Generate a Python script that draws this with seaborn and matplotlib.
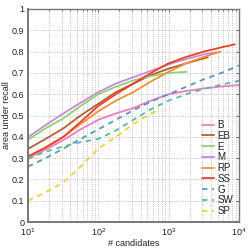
import numpy as np
import pandas as pd
import matplotlib
matplotlib.use("Agg")
import matplotlib.pyplot as plt
import seaborn as sns
from matplotlib.ticker import LogLocator, LogFormatterMathtext, FixedLocator

# ---- data ----
methods = ["B", "EB", "E", "M", "RP", "SS", "G", "SW", "SP"]

n_B = [10, 17.8, 32, 56, 100, 178, 316, 562, 1000, 1778, 3162, 5623, 10000]
auc_B = [0.30, 0.34, 0.385, 0.435, 0.48, 0.51, 0.535, 0.57, 0.60, 0.615, 0.627, 0.636, 0.643]

n_EB = [10, 17.8, 32, 56, 100, 178, 316, 562, 1000, 1778, 3600]
auc_EB = [0.343, 0.39, 0.44, 0.50, 0.555, 0.61, 0.65, 0.69, 0.72, 0.745, 0.773]

n_E = [10, 17.8, 32, 56, 100, 178, 316, 562, 1000, 1800]
auc_E = [0.386, 0.44, 0.487, 0.545, 0.60, 0.635, 0.665, 0.685, 0.70, 0.705]

n_M = [10, 17.8, 32, 56, 100, 178, 316, 562, 1000, 1778, 3162, 4800]
auc_M = [0.398, 0.455, 0.51, 0.56, 0.61, 0.65, 0.68, 0.71, 0.74, 0.765, 0.787, 0.797]

n_RP = [10, 17.8, 32, 56, 100, 178, 316, 562, 1000, 1778, 3162, 5500]
auc_RP = [0.304, 0.35, 0.40, 0.46, 0.52, 0.57, 0.61, 0.66, 0.705, 0.745, 0.775, 0.80]

n_SS = [10, 17.8, 32, 56, 100, 178, 316, 562, 1000, 1778, 3162, 5623, 8700]
auc_SS = [0.308, 0.35, 0.40, 0.47, 0.545, 0.60, 0.65, 0.70, 0.745, 0.775, 0.80, 0.82, 0.834]

n_G = [10, 17.8, 32, 56, 100, 178, 316, 562, 1000, 1778, 3162, 5623, 10000]
auc_G = [0.26, 0.30, 0.345, 0.39, 0.435, 0.48, 0.525, 0.565, 0.60, 0.635, 0.67, 0.70, 0.735]

n_SW = [10, 17.8, 32, 56, 100, 178, 316, 562, 1000, 1778, 3162, 5623, 10000]
auc_SW = [0.296, 0.33, 0.355, 0.375, 0.39, 0.43, 0.48, 0.53, 0.57, 0.60, 0.625, 0.645, 0.663]

n_SP = [10, 18, 32, 56, 100, 178, 316, 562, 750]
auc_SP = [0.10, 0.14, 0.185, 0.26, 0.345, 0.40, 0.46, 0.51, 0.526]

series = {
    "B": (n_B, auc_B), "EB": (n_EB, auc_EB), "E": (n_E, auc_E),
    "M": (n_M, auc_M), "RP": (n_RP, auc_RP), "SS": (n_SS, auc_SS),
    "G": (n_G, auc_G), "SW": (n_SW, auc_SW), "SP": (n_SP, auc_SP),
}

rows = []
for m in methods:
    ns, vs = series[m]
    for n, v in zip(ns, vs):
        rows.append({"method": m, "candidates": n, "auc": v})
df = pd.DataFrame(rows)

palette = {
    "B": "#f07cc0", "EB": "#b5602e", "E": "#8fd070", "M": "#c88ad8",
    "RP": "#f0923a", "SS": "#e8402e", "G": "#5b95c8", "SW": "#5cb8a0",
    "SP": "#f0d040",
}
dashes = {m: "" for m in methods}
for m in ["G", "SW", "SP"]:
    dashes[m] = (3.0, 2.6)

sns.set_style("white")
plt.rcParams["font.family"] = ["Liberation Sans", "DejaVu Sans"]
plt.rcParams["mathtext.fontset"] = "custom"
plt.rcParams["mathtext.rm"] = "Liberation Sans"
plt.rcParams["mathtext.it"] = "Liberation Sans"

fig = plt.figure(figsize=(2.49, 2.50), dpi=100)
ax = fig.add_axes([0.1124, 0.112, 0.8474, 0.852])

sns.lineplot(data=df, x="candidates", y="auc", hue="method", style="method",
             hue_order=methods, style_order=methods, palette=palette,
             dashes=dashes, linewidth=1.3, ax=ax, estimator=None, sort=False)

ax.set_xscale("log")
ax.set_xlim(10, 10000)
ax.set_ylim(0, 1)

ax.xaxis.set_major_locator(LogLocator(base=10, numticks=10))
ax.xaxis.set_minor_locator(LogLocator(base=10, subs=np.arange(2, 10), numticks=20))
ax.xaxis.set_major_formatter(LogFormatterMathtext())
yt = [0, 0.1, 0.2, 0.3, 0.4, 0.5, 0.6, 0.7, 0.8, 0.9, 1]
ax.yaxis.set_major_locator(FixedLocator(yt))
ax.set_yticklabels(["0", "0.1", "0.2", "0.3", "0.4", "0.5", "0.6", "0.7", "0.8", "0.9", "1"])

ax.grid(True, which="major", axis="both", linestyle=":", linewidth=0.6, color="#aaaaaa")
ax.grid(True, which="minor", axis="x", linestyle=":", linewidth=0.6, color="#aaaaaa")

for s in ax.spines.values():
    s.set_color("#777777")
    s.set_linewidth(1.0)
ax.spines["left"].set_linewidth(1.4)
ax.spines["bottom"].set_linewidth(1.4)

ax.tick_params(axis="both", which="both", direction="in", top=True, right=True,
               labelsize=6.5, colors="#555555", labelcolor="#222222", length=2.5, width=0.6)
ax.tick_params(axis="x", which="minor", length=1.5)
ax.tick_params(axis="x", which="major", pad=3)
ax.tick_params(axis="y", which="major", pad=2.5)

ax.set_xlabel("# candidates", fontsize=6.5, color="#222222", labelpad=1)
ax.set_ylabel("area under recall", fontsize=6.5, color="#222222", labelpad=1)

leg = ax.legend(loc="lower right", frameon=False, fontsize=7, handlelength=1.3,
                handletextpad=0.3, labelspacing=0.08, borderaxespad=0.2)
for t in leg.get_texts():
    t.set_color("#222222")

fig.savefig("out.png", dpi=100)
